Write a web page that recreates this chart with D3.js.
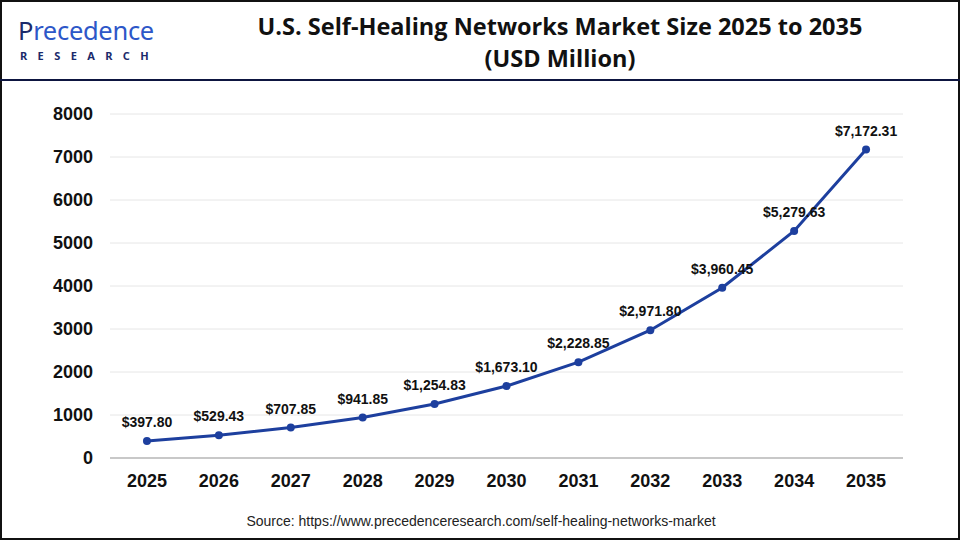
<!DOCTYPE html>
<html>
<head>
<meta charset="utf-8">
<script src="https://cdn.jsdelivr.net/npm/d3@7"></script>
<style>
  body { margin: 0; background: #fff; }
  svg { display: block; }
</style>
</head>
<body>
<svg width="960" height="540"></svg>
<script>
// data
var years = ["2025","2026","2027","2028","2029","2030","2031","2032","2033","2034","2035"];
var marketSize = [397.80, 529.43, 707.85, 941.85, 1254.83, 1673.10, 2228.85, 2971.80, 3960.45, 5279.63, 7172.31];
var yTicks = [0, 1000, 2000, 3000, 4000, 5000, 6000, 7000, 8000];

var width = 960, height = 540;
var margin = {top: 114, right: 57, bottom: 82, left: 110};
var lineColor = "#1d3f9e";

var svg = d3.select("svg");

// frame
svg.append("rect")
  .attr("x", 1).attr("y", 1)
  .attr("width", width - 2).attr("height", height - 2)
  .attr("fill", "none").attr("stroke", "#111").attr("stroke-width", 2);

// header rule
svg.append("line")
  .attr("x1", 0).attr("x2", width)
  .attr("y1", 80).attr("y2", 80)
  .attr("stroke", "#0d1540").attr("stroke-width", 2);

// logo
var logo = svg.append("g").attr("transform", "translate(18,0)");
logo.append("text")
  .attr("x", 0).attr("y", 40)
  .attr("font-family", "'Noto Sans', sans-serif")
  .attr("font-size", 25.5)
  .attr("fill", "#1b2a6b")
  .attr("letter-spacing", "-0.3")
  .text("P")
  .append("tspan")
  .attr("fill", "#2d57c8")
  .text("recedence");
logo.append("text")
  .attr("x", 2).attr("y", 60)
  .attr("font-family", "'Noto Sans', sans-serif")
  .attr("font-weight", "bold")
  .attr("font-size", 11)
  .attr("letter-spacing", "10.4")
  .attr("fill", "#1b2a6b")
  .text("RESEARCH");

// title
var title = svg.append("text")
  .attr("text-anchor", "middle")
  .attr("font-family", "'Open Sans', 'Noto Sans', sans-serif")
  .attr("font-weight", "bold")
  .attr("font-size", 23.5)
  .attr("fill", "#111");
title.append("tspan").attr("x", 560).attr("y", 35)
  .text("U.S. Self-Healing Networks Market Size 2025 to 2035");
title.append("tspan").attr("x", 560).attr("y", 67)
  .text("(USD Million)");

var x = d3.scaleBand()
  .domain(years)
  .range([111, 902]);

var y = d3.scaleLinear()
  .domain([0, 8000])
  .range([height - margin.bottom, margin.top]);

// gridlines
svg.append("g")
  .selectAll("line")
  .data(yTicks)
  .enter()
  .append("line")
  .attr("x1", margin.left)
  .attr("x2", width - margin.right)
  .attr("y1", function(d) { return y(d); })
  .attr("y2", function(d) { return y(d); })
  .attr("stroke", function(d) { return d === 0 ? "#c8c8c8" : "#e6e6e6"; })
  .attr("stroke-width", function(d) { return d === 0 ? 2 : 1; });

// y axis
var yAxis = svg.append("g")
  .attr("transform", "translate(" + (margin.left - 17) + ",0)")
  .call(d3.axisLeft(y).tickValues(yTicks).tickSize(0).tickPadding(0).tickFormat(d3.format("d")));
yAxis.select(".domain").remove();
yAxis.selectAll("text")
  .attr("font-family", "'Liberation Sans', Arial, sans-serif")
  .attr("font-weight", "bold")
  .attr("font-size", 18)
  .attr("fill", "#111");

// x axis
var xAxis = svg.append("g")
  .attr("transform", "translate(0," + (height - margin.bottom) + ")")
  .call(d3.axisBottom(x).tickSize(0).tickPadding(16));
xAxis.select(".domain").remove();
xAxis.selectAll("text")
  .attr("font-family", "'Liberation Sans', Arial, sans-serif")
  .attr("font-weight", "bold")
  .attr("font-size", 18)
  .attr("fill", "#111");

var cx = function(d, i) { return x(years[i]) + x.bandwidth() / 2; };

// line
var line = d3.line()
  .x(function(d, i) { return cx(d, i); })
  .y(function(d) { return y(d); });

svg.append("path")
  .datum(marketSize)
  .attr("d", line)
  .attr("fill", "none")
  .attr("stroke", lineColor)
  .attr("stroke-width", 3);

svg.selectAll("circle")
  .data(marketSize)
  .enter()
  .append("circle")
  .attr("cx", cx)
  .attr("cy", function(d) { return y(d); })
  .attr("r", 4)
  .attr("fill", lineColor);

// value labels
var fmt = d3.format(",.2f");
svg.selectAll(".val")
  .data(marketSize)
  .enter()
  .append("text")
  .attr("class", "val")
  .attr("x", cx)
  .attr("y", function(d) { return y(d) - 14; })
  .attr("text-anchor", "middle")
  .attr("font-family", "'Liberation Sans', Arial, sans-serif")
  .attr("font-weight", "bold")
  .attr("font-size", 14)
  .attr("fill", "#111")
  .text(function(d) { return "$" + fmt(d); });

// source
svg.append("text")
  .attr("x", 481).attr("y", 526)
  .attr("text-anchor", "middle")
  .attr("font-family", "'Liberation Sans', Arial, sans-serif")
  .attr("font-size", 14)
  .attr("fill", "#222")
  .text("Source: https://www.precedenceresearch.com/self-healing-networks-market");
</script>
</body>
</html>
